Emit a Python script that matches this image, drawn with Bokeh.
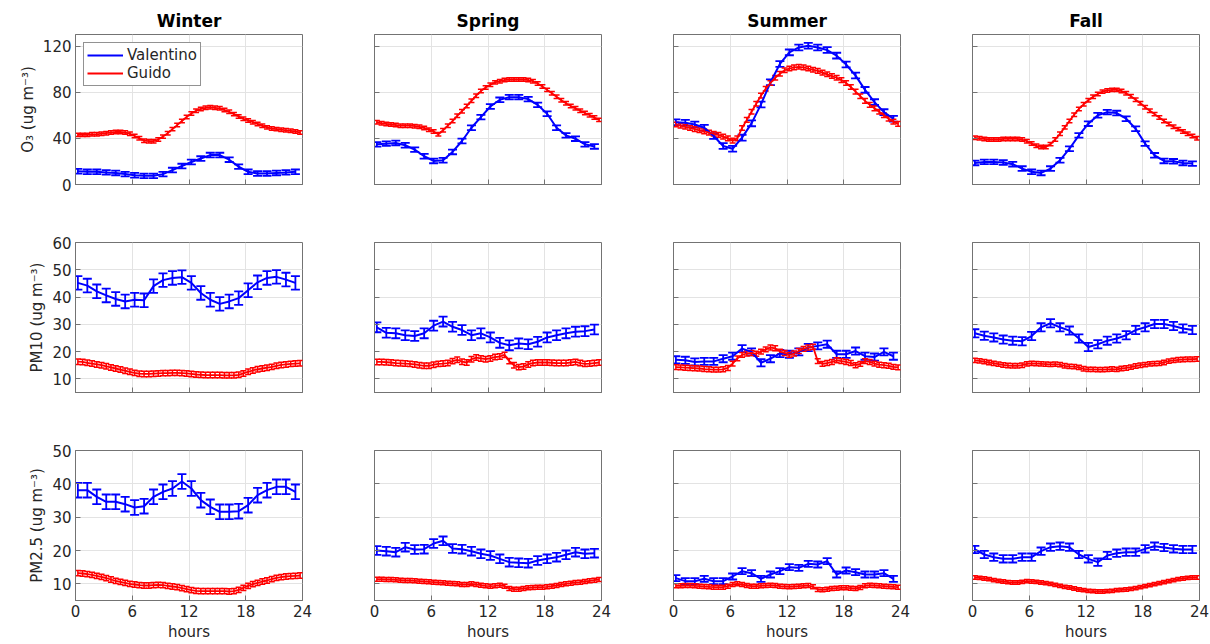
from bokeh.plotting import figure
from bokeh.layouts import gridplot
from bokeh.models import (Range1d, FixedTicker, ColumnDataSource, Whisker, TeeHead,
                          Legend, LegendItem)
from bokeh.embed import file_html
from bokeh.resources import INLINE

FONT = "DejaVu Sans"
BLUE = "#0000ff"
RED = "#ff0000"

seasons = ["Winter", "Spring", "Summer", "Fall"]
pollutants = ["O3", "PM10", "PM2.5"]
ylabels = ["O\u2083 (ug m\u207b\u00b3)", "PM10 (ug m\u207b\u00b3)", "PM2.5 (ug m\u207b\u00b3)"]
y_limits = [(0, 130), (5, 60), (5, 50)]
y_ticks = [[0, 40, 80, 120], [10, 20, 30, 40, 50, 60], [10, 20, 30, 40, 50]]
x_ticks = [0, 6, 12, 18, 24]
series_names = ["Valentino", "Guido"]

hours_val = [i + 0.25 for i in range(24)]      # hourly means (Valentino)
hours_gui = [0.25 + 0.5 * j for j in range(48)]  # half-hourly means (Guido)

# ---------------- O3 ----------------
winter_o3_val = [11.5, 11, 11, 10.5, 10, 9, 8, 7.5, 7.5, 9, 12.5, 16, 19.5, 22.5, 25.5, 25.5,
                 21.5, 15.5, 11, 9.5, 9.5, 10, 10.5, 11]
winter_o3_gui = [43, 43, 43, 43.5, 43.5, 44, 44.5, 45, 45.5, 45.5, 45, 44, 42, 40, 38, 37.5,
                 37.5, 39, 41.5, 44.5, 48, 51.5, 55, 58.5, 61.5, 64, 65.5, 66.5, 67, 66.5, 66,
                 64.5, 63, 61, 59, 57, 55.5, 54, 52.5, 51, 49.5, 48.5, 48, 47.5, 47, 46.5, 46, 45]
spring_o3_val = [34.8, 35.4, 36, 34, 30.2, 24.5, 20.4, 21, 28.2, 37.7, 49.2, 58.4, 67.6, 73.4,
                 75.7, 75.7, 74, 69, 61.3, 49.2, 42.6, 39.7, 34.8, 33]
spring_o3_gui = [54, 53, 52.5, 52, 51.5, 51, 51, 51, 50.5, 50, 49, 47.5, 46, 43.5, 47, 51, 55,
                 59.5, 63.5, 68, 72.5, 77, 81, 84, 86.5, 88.5, 89.5, 90.5, 91, 91, 91, 91, 90.5,
                 89.5, 87.5, 85, 82, 79, 76, 73, 70.5, 68, 66, 64, 62, 60, 58, 56]
summer_o3_val = [54, 53.5, 52, 49.2, 42, 33.4, 31, 40.6, 53, 69.4, 88.6, 104.5, 114.5, 118.8,
                 120.3, 118.8, 116.5, 111.7, 104, 94.4, 82, 71.4, 62.7, 57]
summer_o3_gui = [52, 51, 50, 49, 48, 47, 46, 45, 44, 43, 41.5, 40, 38, 40, 49, 56, 63, 70, 77,
                 83, 88, 92.5, 96, 99, 100.5, 101.5, 102, 101.5, 100.5, 99.5, 98.5, 97, 95.5, 94,
                 92.5, 90.5, 88, 84.5, 80.5, 76.5, 72.5, 69, 66, 63, 60, 57, 54.5, 52.5]
fall_o3_val = [18.7, 19.6, 19.6, 19, 17.6, 13.8, 11, 10, 13.8, 21, 31, 42.6, 52.7, 60, 62.7,
               61.9, 57, 48.3, 35.4, 25.3, 20.4, 20.1, 18.7, 18.1]
fall_o3_gui = [40.5, 40, 39.5, 39, 39, 39, 39.5, 39.5, 39.5, 39.5, 39, 37.5, 35.5, 33.5, 32.5,
               32.5, 35, 39, 44, 49.5, 55, 60.5, 65.5, 69.5, 73, 76, 78.5, 80.5, 81.5, 82, 82,
               81, 79, 76.5, 73.5, 70.5, 67, 64, 61, 58, 55, 52.5, 50, 48, 46, 44, 42, 40]

# ---------------- PM10 ----------------
winter_pm10_val = [45.2, 44.2, 42.1, 40.6, 39.3, 38.4, 39, 38.8, 44, 46.2, 47, 47.3, 45.2, 41.5,
                   39, 37.5, 38.4, 39.6, 42.5, 45.4, 47, 47.4, 46.4, 45.2]
winter_pm10_gui = [16.3, 16.2, 15.9, 15.6, 15.3, 15, 14.6, 14.2, 13.8, 13.4, 13, 12.6, 12.2,
                   11.9, 11.8, 11.8, 11.9, 12, 12.1, 12.1, 12.2, 12.2, 12.1, 12, 11.8, 11.6,
                   11.5, 11.4, 11.4, 11.4, 11.4, 11.3, 11.3, 11.3, 11.5, 12, 12.6, 13.1, 13.5,
                   13.8, 14.1, 14.4, 14.8, 15.1, 15.3, 15.5, 15.6, 15.7]
spring_pm10_val = [28.9, 26.9, 26.7, 26, 25.7, 26.7, 29.5, 31, 29.1, 27.9, 26, 26.7, 25.2, 23.2,
                   22.3, 23, 22.7, 23.6, 25.2, 26, 26.7, 27.3, 27.5, 28.1]
spring_pm10_gui = [16.2, 16.2, 16.1, 16, 15.8, 15.7, 15.6, 15.5, 15.3, 15, 14.8, 14.8, 15.2,
                   15.5, 15.6, 15.8, 16.5, 17, 16.3, 16, 17.2, 17.8, 17.5, 17.2, 17.5, 18, 18.2,
                   18.8, 16.5, 15, 14.3, 14.5, 15.3, 15.8, 16, 16, 16, 15.9, 15.8, 15.8, 15.8,
                   16, 16.2, 15.8, 15.5, 15.6, 15.8, 16]
summer_pm10_val = [17, 16.8, 16.2, 16.4, 16.4, 17.4, 18.3, 21.1, 19.9, 15.9, 17.4, 19.3, 19,
                   19.9, 21.5, 22.1, 22.7, 19, 19, 20.2, 18.3, 18, 19.9, 18.3]
summer_pm10_gui = [14.3, 14.2, 14.1, 14, 13.9, 13.8, 13.6, 13.5, 13.4, 13.4, 13.5, 14, 15.6,
                   17.5, 18.8, 19.3, 19.5, 19.2, 20, 20.8, 21.5, 21.2, 20, 19.5, 18.8, 19.3,
                   20.2, 21, 21.5, 21.8, 16.5, 15.5, 15.8, 16.2, 16.8, 16.5, 16.2, 15.8, 15,
                   15.5, 16.5, 16.2, 15.6, 15.2, 15, 14.8, 14.4, 14.2]
fall_pm10_val = [26.7, 25.8, 25.2, 24.4, 24, 23.8, 25.7, 28.9, 30.4, 28.9, 27.7, 24.8, 21.7,
                 22.7, 24, 24.8, 26, 27.9, 28.9, 30.1, 30.1, 29.4, 28.5, 27.9]
fall_pm10_gui = [16.8, 16.6, 16.3, 16, 15.7, 15.4, 15.1, 14.9, 14.8, 14.8, 15, 15.5, 15.7, 15.6,
                 15.5, 15.4, 15.3, 15.4, 15.2, 14.8, 14.6, 14.5, 14.2, 13.7, 13.5, 13.5, 13.4,
                 13.4, 13.5, 13.6, 13.5, 13.8, 14, 14.3, 14.7, 15, 15.2, 15.5, 15.6, 15.7, 16,
                 16.5, 16.8, 17, 17.1, 17.2, 17.2, 17.3]

# ---------------- PM2.5 ----------------
winter_pm25_val = [38.1, 38.1, 36.1, 34.6, 34.6, 33.9, 32.9, 33.3, 36.1, 37.6, 38.6, 40.7, 38.6,
                   35.1, 33.1, 31.6, 31.6, 31.8, 33.6, 36.6, 38.1, 39.1, 39.1, 37.6]
winter_pm25_gui = [13.2, 13.1, 12.9, 12.7, 12.4, 12.1, 11.7, 11.3, 10.9, 10.6, 10.3, 10, 9.8,
                   9.6, 9.5, 9.5, 9.6, 9.7, 9.6, 9.4, 9.2, 9, 8.7, 8.4, 8.1, 7.9, 7.8, 7.8, 7.8,
                   7.8, 7.8, 7.8, 7.7, 7.8, 8.2, 8.8, 9.4, 9.9, 10.3, 10.7, 11, 11.4, 11.8, 12,
                   12.2, 12.3, 12.4, 12.5]
spring_pm25_val = [20, 19.8, 19.5, 21, 20.3, 20.4, 22.1, 22.9, 20.6, 20.4, 19.8, 19, 18.5, 17.5,
                   16.5, 16.3, 16.2, 17, 17.5, 18, 18.7, 19.5, 19, 19.2]
spring_pm25_gui = [11.4, 11.4, 11.3, 11.3, 11.2, 11.1, 11, 11, 10.9, 10.8, 10.7, 10.6, 10.5,
                   10.4, 10.3, 10.2, 10.1, 10, 9.8, 9.8, 10, 9.8, 9.6, 9.4, 9.3, 9.4, 9.6, 9.3,
                   8.6, 8.4, 8.4, 8.6, 8.8, 8.9, 9, 9, 9.1, 9.3, 9.5, 9.8, 10, 10.2, 10.4, 10.5,
                   10.7, 10.9, 11.1, 11.3]
summer_pm25_val = [11.7, 10.8, 10.8, 11.5, 10.8, 10.8, 12.2, 13.8, 13.2, 11.5, 12.8, 13.8, 15,
                   14.8, 16, 15.8, 16.8, 12.8, 14, 13.5, 12.8, 12.8, 13.2, 11.5]
summer_pm25_gui = [9.4, 9.4, 9.5, 9.5, 9.4, 9.3, 9.2, 9.1, 9, 9, 9, 9.3, 9.8, 10, 9.8, 9.5, 9.3,
                   9.3, 9.4, 9.5, 9.6, 9.5, 9.3, 9.2, 9.1, 9.2, 9.3, 9.4, 9.5, 9.1, 8.3, 8.2,
                   8.4, 8.6, 8.7, 8.8, 8.8, 8.7, 8.6, 8.9, 9.4, 9.6, 9.5, 9.4, 9.3, 9.2, 9.1, 9]
fall_pm25_val = [20.3, 18.8, 18, 17.5, 17.5, 18, 18, 19.8, 21, 21.3, 21, 18.8, 17.5, 16.5, 18.5,
                 19.2, 19.5, 19.5, 20.5, 21.3, 20.9, 20.5, 20.3, 20.3]
fall_pm25_gui = [11.9, 11.8, 11.6, 11.4, 11.1, 10.9, 10.7, 10.5, 10.4, 10.4, 10.6, 10.8, 10.7,
                 10.6, 10.4, 10.2, 10, 9.7, 9.4, 9.1, 8.9, 8.6, 8.3, 8.1, 7.9, 7.8, 7.7, 7.7,
                 7.8, 7.9, 8.1, 8.2, 8.3, 8.5, 8.7, 9, 9.3, 9.6, 9.9, 10.2, 10.5, 10.8, 11.1,
                 11.4, 11.6, 11.8, 11.9, 11.9]

# standard errors per panel (Valentino, Guido)
err_o3 = [(2.0, 1.5), (2.0, 1.5), (2.5, 2.0), (2.0, 1.5)]
err_pm10 = [(2.5, 1.0), (1.8, 1.0), (1.3, 0.9), (1.5, 0.8)]
err_pm25 = [(2.2, 0.8), (1.3, 0.6), (0.9, 0.6), (1.1, 0.5)]

panels = [
    [(winter_o3_val, winter_o3_gui), (spring_o3_val, spring_o3_gui),
     (summer_o3_val, summer_o3_gui), (fall_o3_val, fall_o3_gui)],
    [(winter_pm10_val, winter_pm10_gui), (spring_pm10_val, spring_pm10_gui),
     (summer_pm10_val, summer_pm10_gui), (fall_pm10_val, fall_pm10_gui)],
    [(winter_pm25_val, winter_pm25_gui), (spring_pm25_val, spring_pm25_gui),
     (summer_pm25_val, summer_pm25_gui), (fall_pm25_val, fall_pm25_gui)],
]
errors = [err_o3, err_pm10, err_pm25]

# layout geometry
col_border = [(75, 10)] + [(62, 10)] * 3
row_border = [(34, 29), (29, 29), (29, 44)]
FRAME_W, FRAME_H = 227, 150

TXT = "#262626"
BOX = "#737373"


def add_series(p, xs, ys, err, color, cap, lw, wlw):
    lo = [y - err for y in ys]
    hi = [y + err for y in ys]
    src = ColumnDataSource(dict(x=xs, y=ys, lo=lo, hi=hi))
    r = p.line("x", "y", source=src, line_color=color, line_width=lw)
    w = Whisker(source=src, base="x", upper="hi", lower="lo", line_color=color,
                line_width=wlw,
                upper_head=TeeHead(size=cap, line_color=color, line_width=wlw),
                lower_head=TeeHead(size=cap, line_color=color, line_width=wlw))
    p.add_layout(w)
    return r


rows = []
for ri in range(3):
    row = []
    for ci in range(4):
        L, R = col_border[ci]
        T, B = row_border[ri]
        p = figure(width=L + FRAME_W + R, height=T + FRAME_H + B,
                   x_range=Range1d(0, 24), y_range=Range1d(*y_limits[ri]),
                   output_backend="svg", toolbar_location=None,
                   min_border_left=L, min_border_right=R,
                   min_border_top=T, min_border_bottom=B)
        p.background_fill_color = "white"
        p.border_fill_color = "white"
        p.outline_line_color = BOX
        p.outline_line_width = 1
        p.xaxis.ticker = FixedTicker(ticks=x_ticks)
        p.yaxis.ticker = FixedTicker(ticks=y_ticks[ri])
        for ax in (p.xaxis[0], p.yaxis[0]):
            ax.major_tick_in = 5
            ax.major_tick_out = 0
            ax.minor_tick_line_color = None
            ax.axis_line_color = BOX
            ax.major_tick_line_color = BOX
            ax.major_label_text_font = FONT
            ax.major_label_text_font_size = "15px"
            ax.major_label_text_color = TXT
            ax.major_label_standoff = 4
            ax.axis_label_text_font = FONT
            ax.axis_label_text_font_size = "15px"
            ax.axis_label_text_font_style = "normal"
            ax.axis_label_text_color = TXT
            ax.axis_label_standoff = 3
        p.grid.grid_line_color = "#e3e3e3"
        p.grid.grid_line_width = 1
        if ri < 2:
            p.xaxis.major_label_text_color = None
        else:
            p.xaxis.axis_label = "hours"
        if ci > 0:
            p.yaxis.major_label_text_color = None
        else:
            p.yaxis.axis_label = ylabels[ri]
        if ri == 0:
            p.title.text = seasons[ci]
            p.title.align = "center"
            p.title.text_font = FONT
            p.title.text_font_size = "17px"
            p.title.text_font_style = "bold"
            p.title.text_color = "black"
            p.title.standoff = 7

        vals, guis = panels[ri][ci]
        ev, eg = errors[ri][ci]
        r_val = add_series(p, hours_val, vals, ev, BLUE, 9, 2.0, 1.8)
        r_gui = add_series(p, hours_gui, guis, eg, RED, 6, 1.8, 1.5)

        if ri == 0 and ci == 0:
            legend = Legend(items=[LegendItem(label=series_names[0], renderers=[r_val]),
                                   LegendItem(label=series_names[1], renderers=[r_gui])],
                            location="top_left")
            legend.label_text_font = FONT
            legend.label_text_font_size = "15px"
            legend.label_text_color = TXT
            legend.border_line_color = TXT
            legend.border_line_width = 1
            legend.margin = 8
            legend.padding = 3
            legend.spacing = 0
            legend.glyph_width = 36
            legend.glyph_height = 18
            legend.label_height = 18
            legend.label_standoff = 4
            legend.background_fill_alpha = 1
            p.add_layout(legend)
        row.append(p)
    rows.append(row)

grid = gridplot(rows, toolbar_location=None)
open("out.html", "w").write(file_html(grid, INLINE))
